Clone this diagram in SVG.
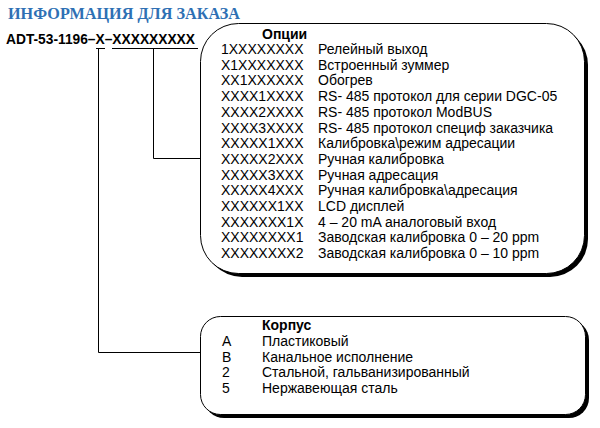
<svg xmlns="http://www.w3.org/2000/svg" width="600" height="428" viewBox="0 0 600 428">
<style>
  .t { font-family: "Liberation Sans", Arial, sans-serif; font-size: 14px; fill: #000; }
  .b { font-weight: bold; }
  .title { font-family: "Liberation Serif", "Times New Roman", serif; font-weight: bold; font-size: 17.5px; fill: #2e70b4; }
  .ln { stroke: #000; stroke-width: 1; fill: none; }
  .box { fill: #fff; stroke: #000; stroke-width: 1; }
  .shadow { fill: #000; }
</style>
<rect width="600" height="428" fill="#fff"/>
<text class="title" x="8" y="19" textLength="232" lengthAdjust="spacingAndGlyphs">ИНФОРМАЦИЯ ДЛЯ ЗАКАЗА</text>
<text class="t b" x="6" y="43.5" textLength="189" lengthAdjust="spacingAndGlyphs">ADT-53-1196–X–XXXXXXXXX</text>
<g id="connectors">
  <line class="ln" x1="96" y1="48.5" x2="105" y2="48.5"/>
  <line class="ln" x1="112" y1="48.5" x2="198" y2="48.5"/>
  <polyline class="ln" points="98.5,48.5 98.5,352.5 200,352.5"/>
  <polyline class="ln" points="153.5,48.5 153.5,158.5 200,158.5"/>
</g>
<g id="options">
  <rect class="shadow" x="204" y="27" width="384" height="250" rx="38" ry="38"/>
  <rect class="box" x="200.5" y="23.5" width="384" height="250" rx="38" ry="38"/>
  <text class="t b" x="262" y="38.5">Опции</text>
  <text class="t" x="221" y="54">1XXXXXXXX</text><text class="t" x="318" y="54">Релейный выход</text>
  <text class="t" x="221" y="69.7">X1XXXXXXX</text><text class="t" x="318" y="69.7">Встроенный зуммер</text>
  <text class="t" x="221" y="85.4">XX1XXXXXX</text><text class="t" x="318" y="85.4">Обогрев</text>
  <text class="t" x="221" y="101.1">XXXX1XXXX</text><text class="t" x="318" y="101.1">RS- 485 протокол для серии DGC-05</text>
  <text class="t" x="221" y="116.8">XXXX2XXXX</text><text class="t" x="318" y="116.8">RS- 485 протокол ModBUS</text>
  <text class="t" x="221" y="132.5">XXXX3XXXX</text><text class="t" x="318" y="132.5">RS- 485 протокол специф заказчика</text>
  <text class="t" x="221" y="148.2">XXXXX1XXX</text><text class="t" x="318" y="148.2">Калибровка\режим адресации</text>
  <text class="t" x="221" y="163.9">XXXXX2XXX</text><text class="t" x="318" y="163.9">Ручная калибровка</text>
  <text class="t" x="221" y="179.6">XXXXX3XXX</text><text class="t" x="318" y="179.6">Ручная адресация</text>
  <text class="t" x="221" y="195.3">XXXXX4XXX</text><text class="t" x="318" y="195.3">Ручная калибровка\адресация</text>
  <text class="t" x="221" y="211">XXXXXX1XX</text><text class="t" x="318" y="211">LCD дисплей</text>
  <text class="t" x="221" y="226.7">XXXXXXX1X</text><text class="t" x="318" y="226.7">4 – 20 mA аналоговый вход</text>
  <text class="t" x="221" y="242.4">XXXXXXXX1</text><text class="t" x="318" y="242.4">Заводская калибровка 0 – 20 ppm</text>
  <text class="t" x="221" y="258.1">XXXXXXXX2</text><text class="t" x="318" y="258.1">Заводская калибровка 0 – 10 ppm</text>
</g>
<g id="housing">
  <rect class="shadow" x="204" y="320" width="385" height="98" rx="20" ry="20"/>
  <rect class="box" x="200.5" y="316.5" width="385" height="98" rx="20" ry="20"/>
  <text class="t b" x="262" y="330">Корпус</text>
  <text class="t" x="222" y="346">A</text><text class="t" x="262" y="346">Пластиковый</text>
  <text class="t" x="222" y="361.7">B</text><text class="t" x="262" y="361.7">Канальное исполнение</text>
  <text class="t" x="222" y="377.4">2</text><text class="t" x="262" y="377.4">Стальной, гальванизированный</text>
  <text class="t" x="222" y="393.1">5</text><text class="t" x="262" y="393.1">Нержавеющая сталь</text>
</g>
</svg>
